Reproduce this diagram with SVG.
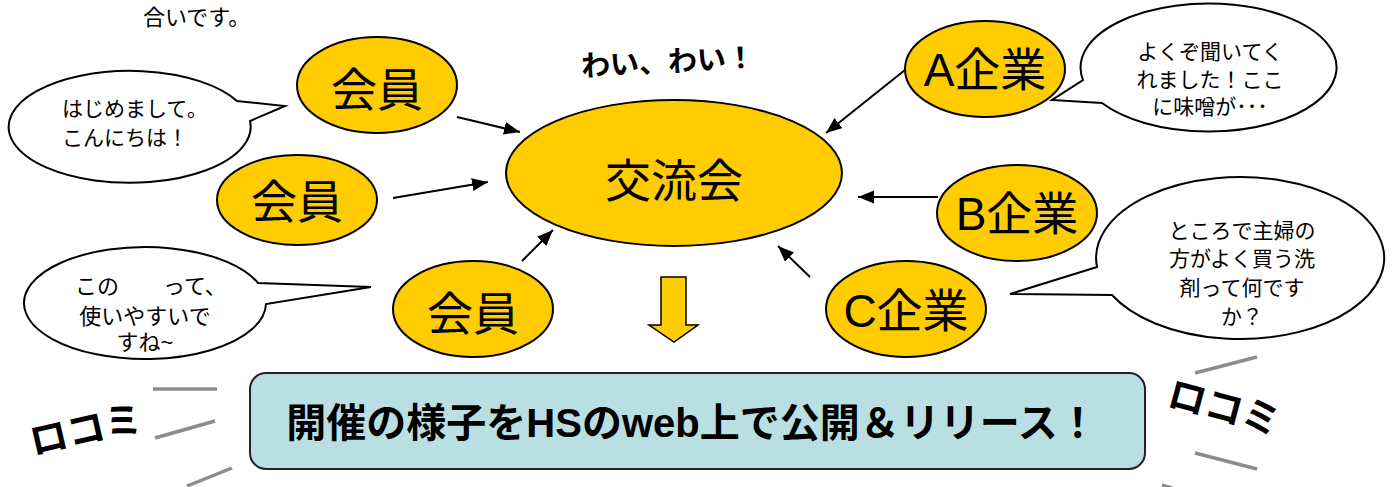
<svg xmlns="http://www.w3.org/2000/svg" width="1394" height="487" viewBox="0 0 1394 487">
<style>
.t{font-family:"Liberation Sans","Noto Sans CJK JP",sans-serif;fill:#000}
.node{fill:#FFCC00;stroke:#000;stroke-width:2}
.bub{fill:#fff;stroke:#000;stroke-width:2;stroke-linejoin:miter}
.big{font-size:46px;text-anchor:middle}
.bt{font-size:21px}
.conn line{stroke:#000;stroke-width:2;marker-end:url(#ah)}
.gray{stroke:#8c8c8c;stroke-width:3.5;fill:none}
.koko{font-size:38px;font-weight:bold;text-anchor:middle}
</style>
<defs>
<marker id="ah" markerUnits="userSpaceOnUse" markerWidth="18" markerHeight="14" refX="16" refY="6.5" orient="auto">
<path d="M0,0 L16,6.5 L0,13 z" fill="#000"/>
</marker>
</defs>
<rect width="1394" height="487" fill="#fff"/>

<text class="t" x="143" y="25" font-size="22">合いです。</text>

<g id="bubble1">
<path class="bub" d="M237,101 A121,56 0 1 0 250,121 L285,106 Z"/>
<text class="t bt" x="62" y="116">はじめまして。</text>
<text class="t bt" x="62" y="145">こんにちは！</text>
</g>

<g id="bubbleA">
<path class="bub" d="M1083,80 A128,64 0 1 1 1102,103 L1052,100 Z"/>
<text class="t bt" x="1210" y="59" text-anchor="middle">よくぞ聞いてく</text>
<text class="t bt" x="1210" y="87" text-anchor="middle">れました！ここ</text>
<text class="t bt" x="1210" y="114" text-anchor="middle">に味噌が･･･</text>
</g>

<g id="bubble3">
<path class="bub" d="M258,283 A121,56 0 1 0 266,304 L371,287 Z"/>
<text class="t" font-size="22" x="75" y="294">この　　って、</text>
<text class="t" font-size="22" x="145" y="324" text-anchor="middle">使いやすいで</text>
<text class="t" font-size="22" x="145" y="350" text-anchor="middle">すね~</text>
</g>

<g id="bubbleC">
<path class="bub" d="M1097,267 A144,81 0 1 1 1112,295 L1010,294 Z"/>
<text class="t bt" x="1242" y="238" text-anchor="middle">ところで主婦の</text>
<text class="t bt" x="1242" y="266" text-anchor="middle">方がよく買う洗</text>
<text class="t bt" x="1242" y="295" text-anchor="middle">剤って何です</text>
<text class="t bt" x="1242" y="324" text-anchor="middle">か？</text>
</g>

<g id="waiwai">
<text class="t" x="668" y="72" font-size="29" font-weight="bold" text-anchor="middle" transform="rotate(-3 668 62)">わい、わい！</text>
</g>

<g id="kouryukai">
<ellipse class="node" cx="674" cy="173" rx="168" ry="73"/>
<text class="t big" x="674" y="197">交流会</text>
</g>

<g id="kaiin1">
<ellipse class="node" cx="377" cy="85" rx="80" ry="48"/>
<text class="t big" x="377" y="106">会員</text>
</g>
<g id="kaiin2">
<ellipse class="node" cx="297" cy="200" rx="80" ry="45"/>
<text class="t big" x="297" y="218">会員</text>
</g>
<g id="kaiin3">
<ellipse class="node" cx="473" cy="309" rx="80" ry="48"/>
<text class="t big" x="473" y="330">会員</text>
</g>
<g id="kigyoA">
<ellipse class="node" cx="985" cy="69" rx="80" ry="48"/>
<text class="t big" x="985" y="86">A企業</text>
</g>
<g id="kigyoB">
<ellipse class="node" cx="1017" cy="213" rx="80" ry="48"/>
<text class="t big" x="1017" y="230">B企業</text>
</g>
<g id="kigyoC">
<ellipse class="node" cx="906" cy="309" rx="80" ry="48"/>
<text class="t big" x="906" y="327">C企業</text>
</g>

<g id="connectors" class="conn">
<line x1="457" y1="117" x2="520" y2="132"/>
<line x1="393" y1="198" x2="488" y2="182"/>
<line x1="522" y1="261" x2="553" y2="230"/>
<line x1="905" y1="70" x2="826" y2="133"/>
<line x1="938" y1="197" x2="858" y2="197"/>
<line x1="810" y1="277" x2="778" y2="246"/>
</g>

<g id="downArrow">
<polygon points="661,277 686,277 686,325 698,325 674,342 649,325 661,325" fill="#FFCC00" stroke="#000" stroke-width="1.5"/>
</g>

<g id="release">
<rect x="250" y="373" width="895" height="96" rx="16" ry="16" fill="#B9DFE3" stroke="#222" stroke-width="2"/>
<text class="t" x="692" y="437" font-size="40" font-weight="bold" text-anchor="middle">開催の様子をHSのweb上で公開＆リリース！</text>
</g>

<g id="kuchikomi">
<text class="t koko" x="86" y="443" transform="rotate(-13 86 430)">ロコミ</text>
<text class="t koko" x="1224" y="421" transform="rotate(15 1224 408)">ロコミ</text>
<line class="gray" x1="153" y1="389" x2="217" y2="389"/>
<line class="gray" x1="155" y1="438" x2="215" y2="421"/>
<line class="gray" x1="187" y1="486" x2="232" y2="468"/>
<line class="gray" x1="1195" y1="373" x2="1257" y2="357"/>
<line class="gray" x1="1195" y1="453" x2="1257" y2="469"/>
<line class="gray" x1="1162" y1="485" x2="1175" y2="489"/>
</g>
</svg>
